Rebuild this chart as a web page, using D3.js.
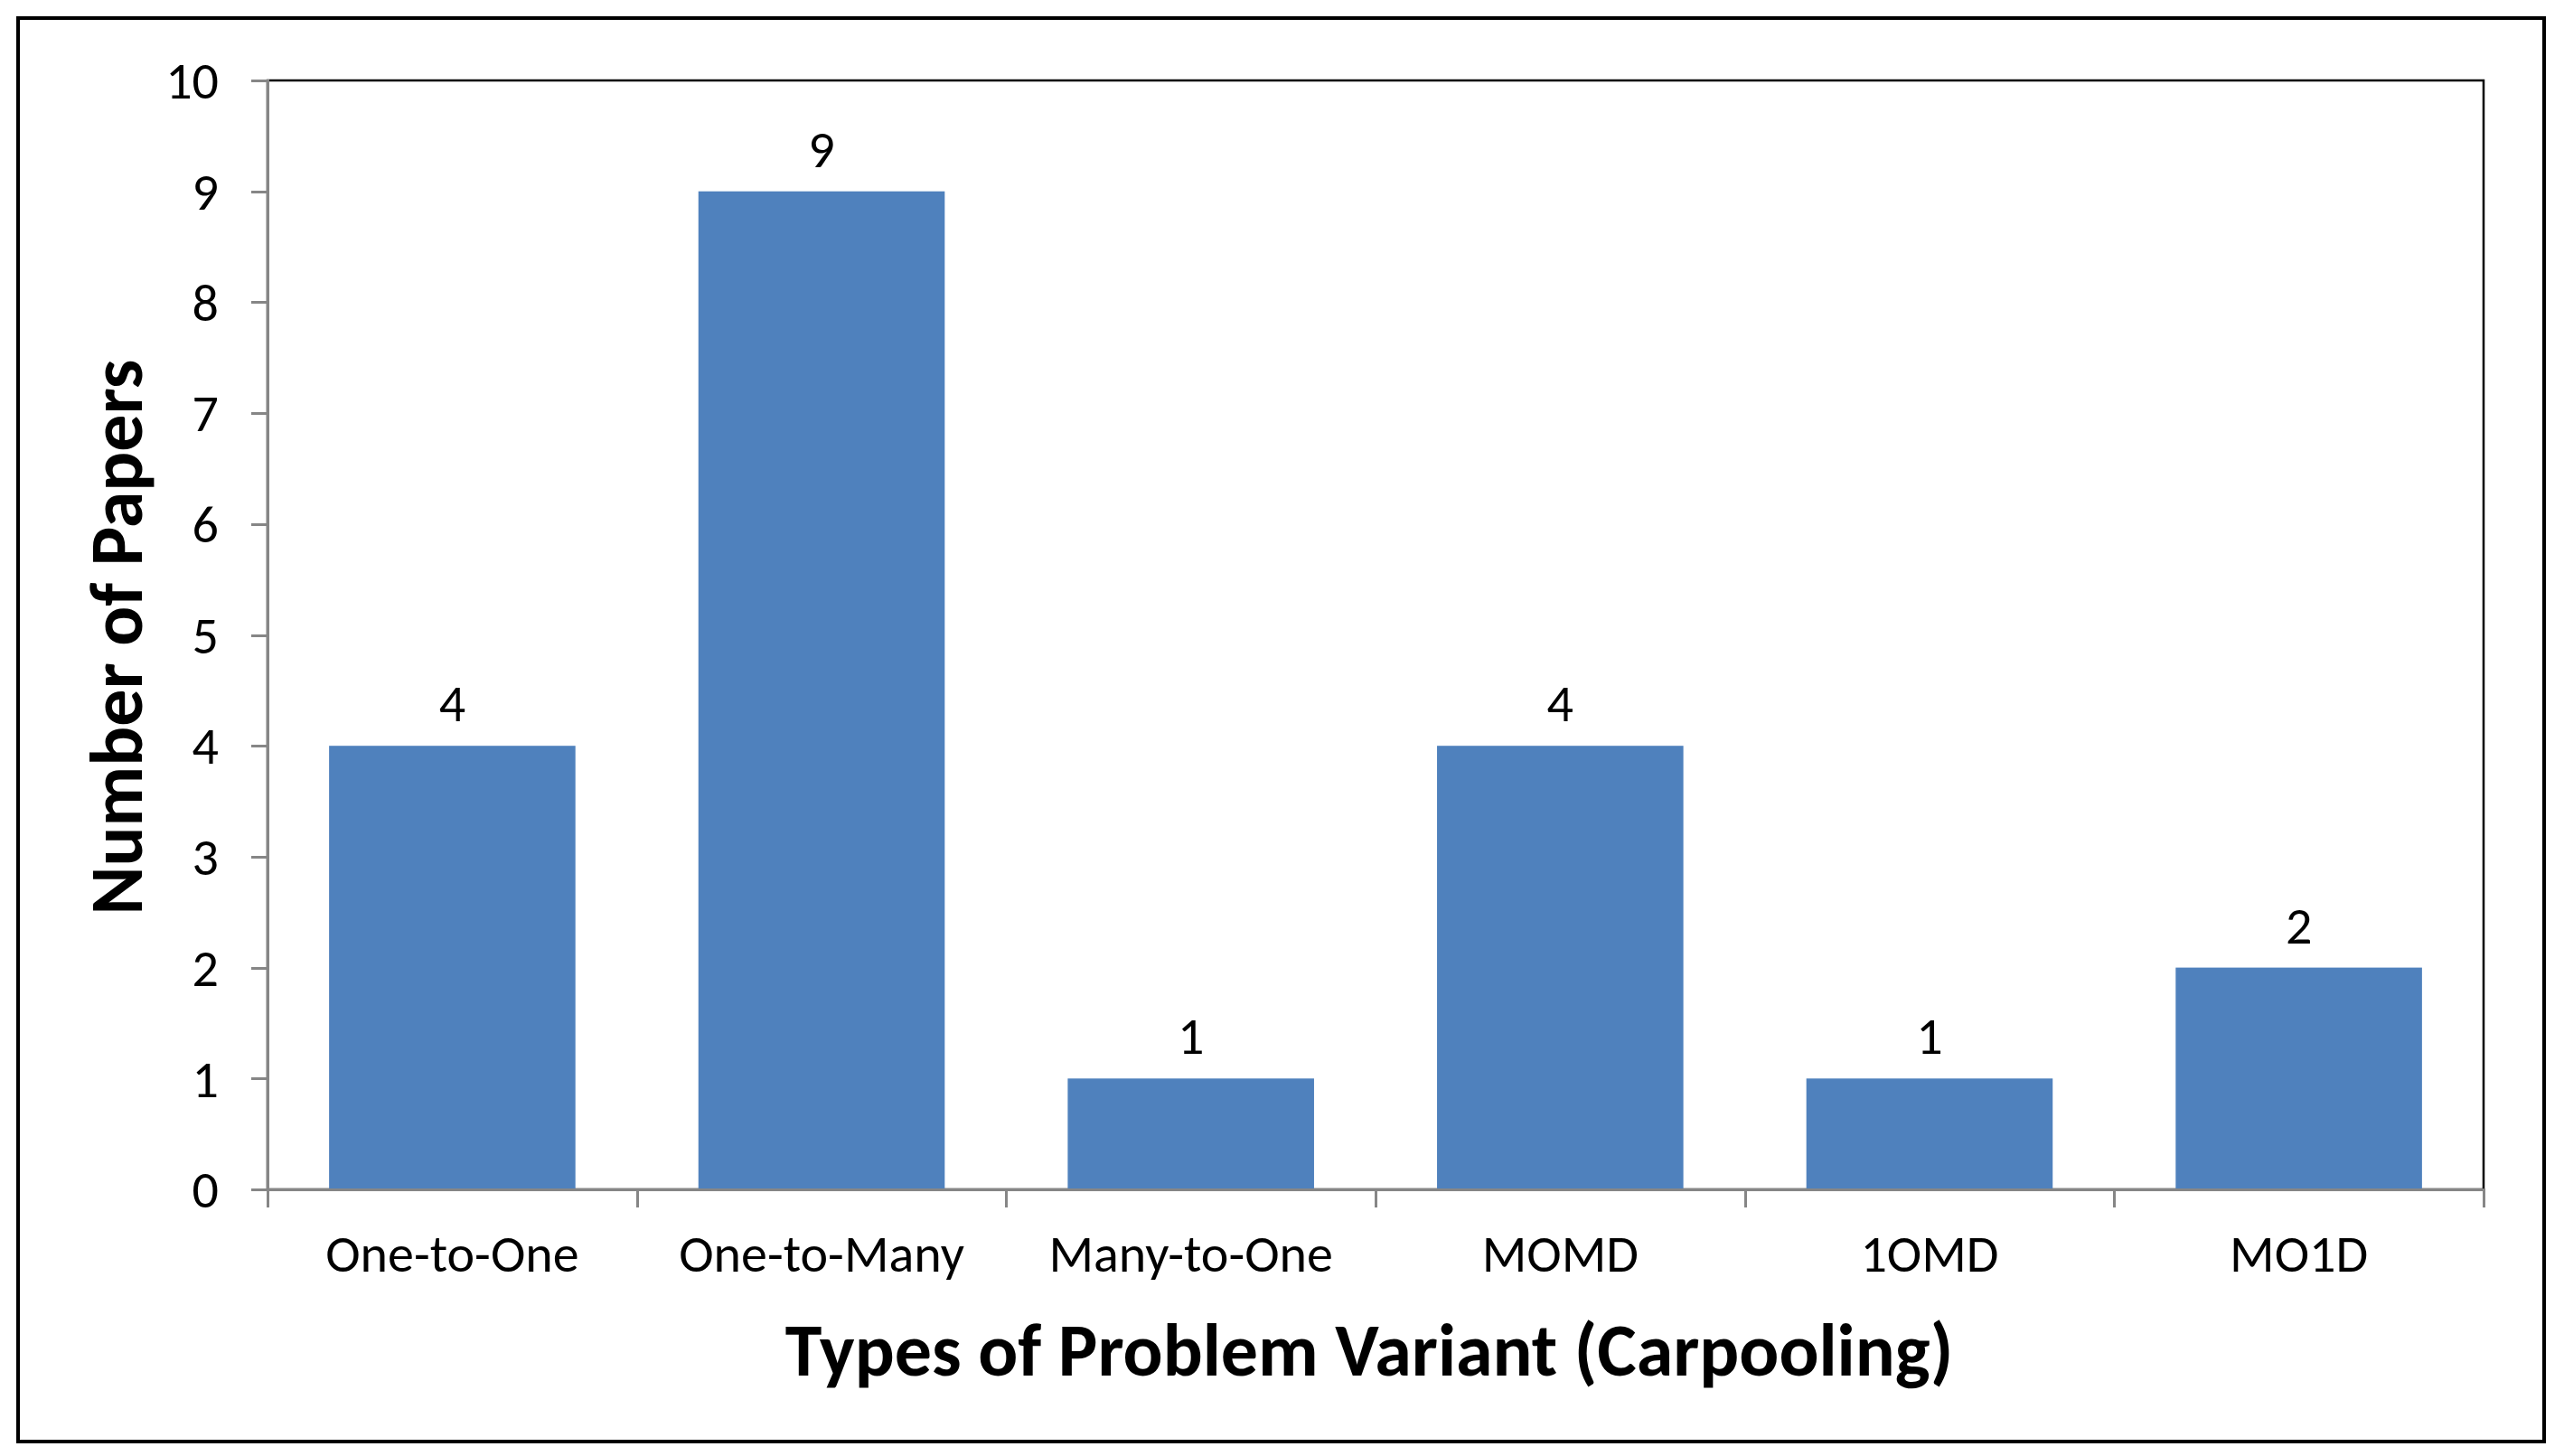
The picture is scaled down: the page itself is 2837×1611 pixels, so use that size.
<!DOCTYPE html>
<html>
<head>
<meta charset="utf-8">
<title>Types of Problem Variant (Carpooling)</title>
<script src="https://d3js.org/d3.v7.min.js"></script>
<style>
body { margin: 0; background: #fff; }
svg text { font-family: Calibri, Carlito, Lato, sans-serif; fill: #000; }
.axis path, .axis line { stroke: #868686; stroke-width: 3; shape-rendering: crispEdges; }
.label { font-size: 58px; }
.title { font-size: 82px; font-weight: bold; }
</style>
</head>
<body>
<svg id="chart"></svg>
<script>
// data
var categories = ["One-to-One", "One-to-Many", "Many-to-One", "MOMD", "1OMD", "MO1D"];
var papers = [4, 9, 1, 4, 1, 2];
var yTicks = [0, 1, 2, 3, 4, 5, 6, 7, 8, 9, 10];

var width = 2837, height = 1611;
var margin = {top: 89, right: 89, bottom: 295, left: 296};
var innerW = width - margin.left - margin.right;
var innerH = height - margin.top - margin.bottom;

var svg = d3.select("#chart")
	.attr("width", width)
	.attr("height", height);

// outer chart border
svg.append("rect")
	.attr("x", 20).attr("y", 20)
	.attr("width", width - 42).attr("height", height - 36)
	.attr("fill", "#fff")
	.attr("stroke", "#000")
	.attr("stroke-width", 4);

var g = svg.append("g")
	.attr("transform", "translate(" + margin.left + "," + margin.top + ")");

var x = d3.scaleBand()
	.domain(categories)
	.range([0, innerW])
	.paddingInner(0.333)
	.paddingOuter(0.1667);

// category boundaries for the tick marks between bars
var xEdge = d3.scaleLinear()
	.domain([0, categories.length])
	.range([0, innerW]);

var y = d3.scaleLinear()
	.domain([0, 10])
	.range([innerH, 0]);

// plot area border (top and right show black)
g.append("rect")
	.attr("width", innerW).attr("height", innerH)
	.attr("fill", "none")
	.attr("stroke", "#000")
	.attr("stroke-width", 2.5);

// bars
g.selectAll(".bar")
	.data(papers)
	.enter()
	.append("rect")
	.attr("class", "bar")
	.attr("x", function(d, i){ return x(categories[i]); })
	.attr("width", x.bandwidth())
	.attr("y", function(d){ return y(d); })
	.attr("height", function(d){ return innerH - y(d); })
	.attr("fill", "#4f81bd");

// value labels
g.selectAll(".value")
	.data(papers)
	.enter()
	.append("text")
	.attr("class", "label value")
	.attr("text-anchor", "middle")
	.attr("x", function(d, i){ return x(categories[i]) + x.bandwidth() / 2; })
	.attr("y", function(d){ return y(d) - 27; })
	.text(function(d){ return d; });

// y axis
var yAxis = g.append("g")
	.attr("class", "axis y")
	.call(d3.axisLeft(y).tickValues(yTicks).tickSize(18).tickPadding(36));
yAxis.selectAll("text").attr("class", "label").attr("dy", "0.34em");

// x axis: boundary ticks
g.append("g")
	.attr("class", "axis x")
	.attr("transform", "translate(0," + innerH + ")")
	.call(d3.axisBottom(xEdge).ticks(categories.length).tickSize(20).tickFormat(""));

// x axis: category labels
var xLab = g.append("g")
	.attr("class", "axis xlab")
	.attr("transform", "translate(0," + innerH + ")")
	.call(d3.axisBottom(x).tickSize(0).tickPadding(0));
xLab.select(".domain").remove();
xLab.selectAll("text").attr("class", "label").attr("y", 91).attr("dy", 0);

// axis titles
svg.append("text")
	.attr("class", "title")
	.attr("text-anchor", "middle")
	.attr("x", 1515)
	.attr("y", 1522)
	.text("Types of Problem Variant (Carpooling)");

svg.append("text")
	.attr("class", "title")
	.attr("text-anchor", "middle")
	.attr("transform", "translate(157,705) rotate(-90)")
	.text("Number of Papers");
</script>
</body>
</html>
